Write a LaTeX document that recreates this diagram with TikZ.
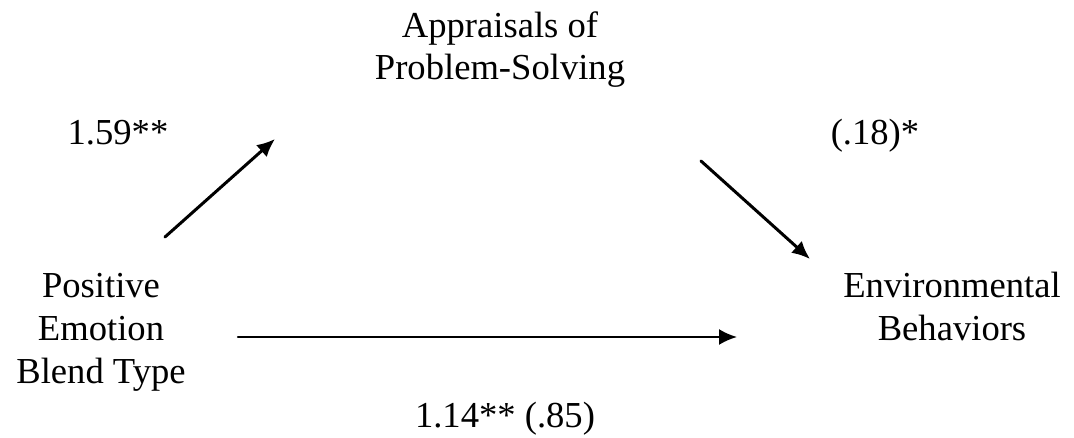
\documentclass[tikz,border=0pt]{standalone}
\usepackage{fontspec}
\setmainfont{Liberation Serif}
\usetikzlibrary{arrows.meta}

\tikzset{
    lbl/.style={align=center, inner sep=0pt, anchor=base, font=\fontsize{18.3}{21.3}\selectfont},
    path/.style={line width=1.5pt, -{Latex[length=9pt, width=8pt]}}
}

\begin{document}
\begin{tikzpicture}[x=0.5pt, y=-0.5pt, line cap=round, line join=round]
\useasboundingbox (0,0) rectangle (1074,438);

% variables (base = last line)
\node[lbl] (mediator) at (500,80) {Appraisals of\\Problem-Solving};
\node[lbl] (blend) at (101,383) {Positive\\Emotion\\Blend Type};
\node[lbl] (behav) at (952,340) {Environmental\\Behaviors};

% coefficients
\node[lbl] (coefa) at (118,145) {1.59**};
\node[lbl] (coefb) at (875,145) {(.18)*};
\node[lbl] (coefc) at (505,427) {1.14** (.85)};

% arrow ends
\coordinate (a1) at (165,237);
\coordinate (a2) at (275,139);
\coordinate (b1) at (701,161);
\coordinate (b2) at (810,259);
\coordinate (c1) at (238,337);
\coordinate (c2) at (737,337);

\draw[path] (a1) -- (a2);
\draw[path] (b1) -- (b2);
\draw[path, line width=1.1pt] (c1) -- (c2);
\end{tikzpicture}
\end{document}
